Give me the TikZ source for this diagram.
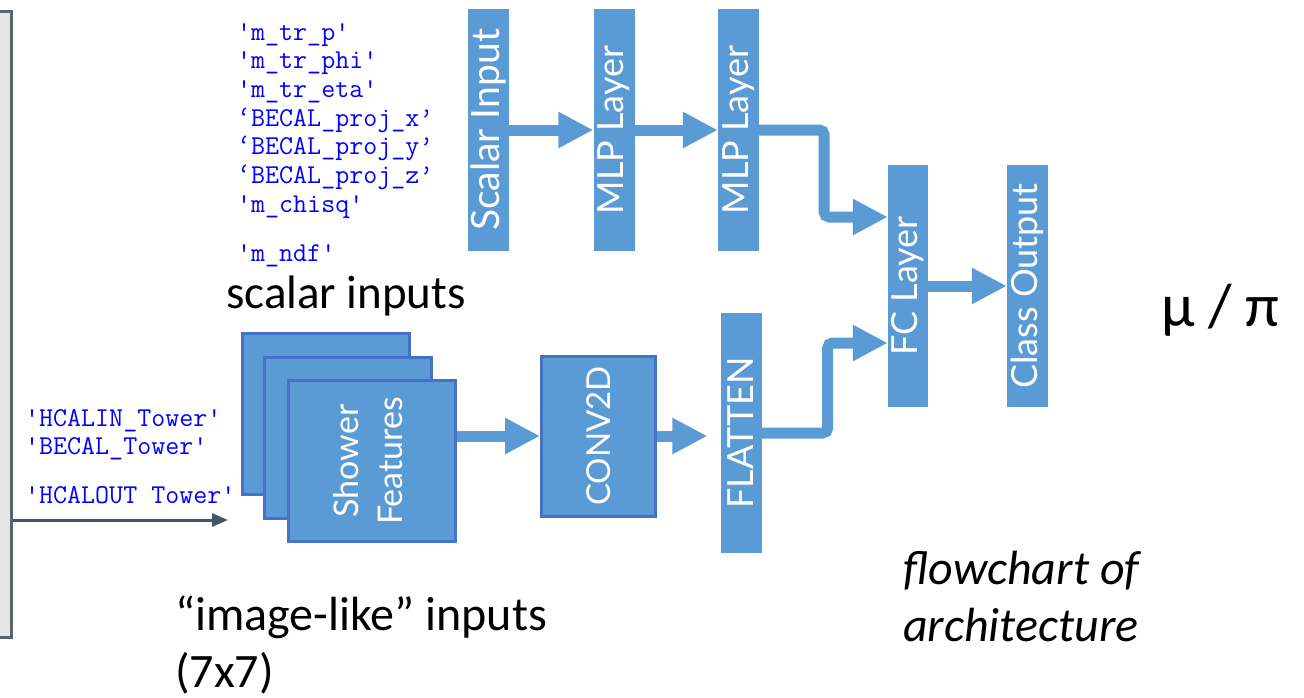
\documentclass[tikz,border=0pt]{standalone}
\usepackage{fontspec}
\setmainfont{Carlito}
\newfontfamily\latofont{Lato}
\usetikzlibrary{arrows.meta}

\definecolor{boxblue}{HTML}{5B9BD5}
\definecolor{edgeblue}{HTML}{4472C4}
\definecolor{feedgray}{HTML}{44546A}
\definecolor{panelgray}{HTML}{E7E6E6}
\definecolor{paneledge}{HTML}{5A6470}

\newcommand{\sq}{\textquotesingle}
\newcommand{\vtext}[1]{\rotatebox{90}{#1}}

\tikzset{
  layer/.style={fill=boxblue, text=white, inner sep=0pt, minimum width=41pt,
    minimum height=242pt, font=\latofont\fontsize{36}{40}\selectfont},
  stackbox/.style={layer, draw=edgeblue, line width=3pt, minimum width=167pt,
    minimum height=161pt},
  flow/.style={boxblue, line width=11pt, rounded corners=5pt,
    -{Triangle[length=35pt,width=34pt]}},
  feed/.style={feedgray, line width=3pt, -{Triangle[length=16pt,width=13pt]}},
  code/.style={text=blue, inner sep=0pt, align=left,
    font=\ttfamily\fontsize{27.2}{28.7}\selectfont},
  caption/.style={inner sep=0pt, align=left, font=\fontsize{48}{57}\selectfont},
}

\begin{document}
\begin{tikzpicture}[x=1pt, y=-1pt]
    \useasboundingbox (0,0) rectangle (1304,697);

    % left panel and feed arrow
    \node[fill=panelgray, draw=paneledge, line width=3pt, minimum width=30pt,
      minimum height=626pt] (panel) at (-4,324.5) {};
    \coordinate (feedend) at (228,520);
    \draw[feed] (panel.east |- feedend) -- (feedend);

    % variable names
    \node[code, anchor=north west] (scalars) at (237,23) {%
      \sq m\_tr\_p\sq\\
      \sq m\_tr\_phi\sq\\
      \sq m\_tr\_eta\sq\\
      ‘BECAL\_proj\_x’\\
      ‘BECAL\_proj\_y’\\
      ‘BECAL\_proj\_z’\\
      \sq m\_chisq\sq\\[21pt]
      \sq m\_ndf\sq};
    \node[code, anchor=north west] (towers) at (25,409) {%
      \sq HCALIN\_Tower\sq\\
      \sq BECAL\_Tower\sq\\[20pt]
      \sq HCALOUT Tower\sq};

    % scalar branch
    \node[layer, font=\latofont\fontsize{39}{40}\selectfont] (scal) at (488.5,130)
      {\vtext{Scalar Input}};
    \node[layer] (mlpa) at (614,130) {\vtext{MLP Layer}};
    \node[layer] (mlpb) at (738.5,130) {\vtext{MLP Layer}};

    % image branch
    \node[stackbox] (backbox) at (325.5,414) {};
    \node[stackbox] (midbox) at (348,437.5) {};
    \node[stackbox, font=\latofont\fontsize{34}{44}\selectfont] (front) at (372,461)
      {\vtext{\begin{tabular}{@{}c@{}}Shower\\Features\end{tabular}}};
    \node[layer, draw=edgeblue, line width=3pt, minimum width=114pt,
      minimum height=160pt, font=\latofont\fontsize{33}{36}\selectfont]
      (conv) at (598.5,436) {\vtext{CONV2D}};
    \node[layer, minimum height=240pt] (flat) at (741,433) {\vtext{FLATTEN}};

    % merge
    \node[layer, minimum width=40pt] (fc) at (908,286) {\vtext{FC Layer}};
    \node[layer] (cls) at (1027.5,286) {\vtext{Class Output}};

    \draw[flow] (scal.east) -- (mlpa.west);
    \draw[flow] (mlpa.east) -- (mlpb.west);
    \draw[flow] (mlpb.east) -- ++(65,0) |- (fc.west |- 0,217);
    \draw[flow] (front.east |- conv.west) -- (conv.west);
    \draw[flow] (conv.east) -- ([xshift=-13pt]flat.west |- conv.east);
    \draw[flow] (flat.east) -- ++(66,0) |- (fc.west |- 0,343);
    \draw[flow] (fc.east) -- (cls.west);

    % captions
    \node[caption, anchor=base west, font=\fontsize{47}{57}\selectfont]
      (scalarcap) at (226,308) {scalar inputs};
    \node[caption, anchor=north west] (imagecap) at (175,596)
      {“image-like” inputs\\(7x7)};
    \node[caption, anchor=north west, font=\itshape\fontsize{48}{57}\selectfont]
      (archcap) at (903,551) {flowchart of\\architecture};
    \node[anchor=base west, inner sep=0pt, font=\fontsize{61}{64}\selectfont]
      (classes) at (1161,326) {μ / π};
\end{tikzpicture}
\end{document}
